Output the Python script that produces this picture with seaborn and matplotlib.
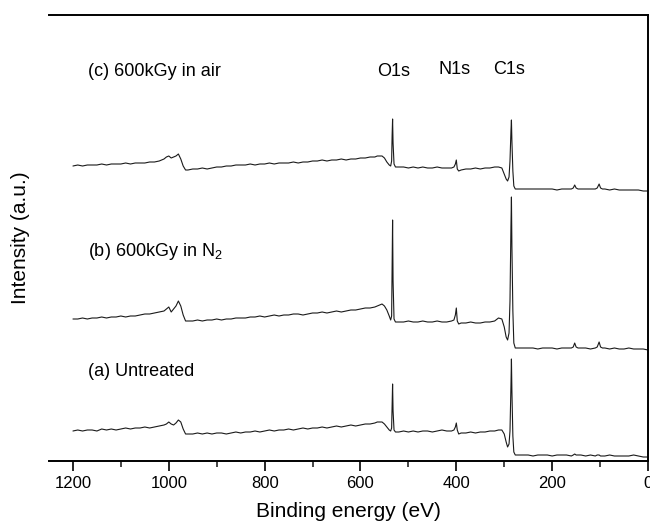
import matplotlib
matplotlib.use("Agg")
import matplotlib.pyplot as plt
import pandas as pd
import seaborn as sns
from matplotlib.ticker import MultipleLocator

# Binding energy grid (eV), finer around the core-level peaks
energy = [
    1200, 1190, 1180, 1170, 1160, 1150, 1140, 1130, 1120, 1110,
    1100, 1090, 1080, 1070, 1060, 1050, 1040, 1030, 1020, 1010,
    1005, 1000, 995, 990, 985, 980, 975, 970, 965, 960,
    950, 940, 930, 920, 910, 900, 890, 880, 870, 860,
    850, 840, 830, 820, 810, 800, 790, 780, 770, 760,
    750, 740, 730, 720, 710, 700, 690, 680, 670, 660,
    650, 640, 630, 620, 610, 600, 590, 580, 570,
    565, 560, 555, 550, 545, 540, 537, 535, 534, 533, 532, 530, 527, 520,
    510, 500, 490, 480, 470, 460, 450, 440, 430, 420, 410,
    405, 402, 400, 398, 395, 390,
    380, 370, 360, 350, 340, 330, 320,
    312, 305, 300, 296, 293, 290, 288, 286, 285, 284, 282, 280, 277, 274, 270,
    260, 250, 240, 230, 220, 210, 200, 190, 180, 170, 160,
    156, 153, 150, 146,
    140, 130, 120, 110, 106, 102, 99, 95,
    90, 80, 70, 60, 50, 40, 30, 20, 10, 0,
]

# Offset survey spectra (a.u.)
untreated = [
    30, 31, 30, 31, 31, 30, 32, 31, 32, 31,
    32, 33, 32, 33, 33, 34, 33, 34, 35, 36,
    37, 39, 37, 36, 38, 41, 39, 32, 27, 27,
    27, 28, 27, 28, 27, 28, 28, 27, 28, 29,
    28, 29, 29, 30, 29, 30, 31, 30, 31, 31,
    32, 31, 32, 33, 32, 33, 33, 34, 33, 34,
    35, 34, 35, 36, 35, 36, 37, 37, 38,
    39, 39, 39, 37, 34, 31, 30, 33, 55, 77, 50, 31, 29, 29,
    30, 29, 30, 29, 30, 30, 29, 30, 31, 30, 30,
    31, 34, 38, 31, 27, 28,
    28, 29, 28, 29, 29, 30, 30,
    31, 31, 27, 19, 14, 17, 30, 75, 102, 70, 25, 9, 6, 6, 6,
    6, 6, 5, 6, 6, 6, 5, 6, 6, 6, 5,
    6, 7, 6, 6,
    6, 5, 6, 5, 6, 6, 5, 5,
    5, 6, 5, 5, 5, 5, 6, 5, 4, 4,
]

irradiated_n2 = [
    142, 142, 143, 142, 143, 143, 144, 143, 144, 144,
    145, 144, 145, 145, 146, 147, 147, 148, 149, 150,
    152, 154, 149, 152, 155, 160, 155, 146, 140, 140,
    140, 141, 140, 141, 141, 142, 141, 142, 142, 143,
    143, 143, 144, 144, 145, 144, 145, 146, 145, 146,
    146, 147, 147, 146, 147, 148, 148, 149, 148, 149,
    150, 149, 150, 151, 151, 152, 153, 153, 154,
    155, 156, 157, 155, 151, 145, 141, 145, 190, 241, 180, 142, 139, 139,
    139, 140, 139, 139, 140, 139, 139, 140, 139, 139, 140,
    141, 146, 153, 140, 137, 138,
    138, 139, 138, 138, 139, 139, 140,
    143, 142, 134, 124, 121, 128, 160, 235, 264, 215, 150, 118, 113, 113, 113,
    113, 113, 113, 112, 113, 113, 113, 112, 113, 113, 113,
    114, 118, 114, 113,
    113, 113, 112, 113, 114, 119, 114, 113,
    113, 112, 113, 112, 112, 113, 112, 112, 112, 111,
]

irradiated_air = [
    295, 296, 295, 296, 296, 296, 297, 296, 297, 297,
    297, 298, 297, 298, 298, 298, 299, 299, 300, 302,
    304, 305, 303, 304, 305, 307, 302, 295, 291, 291,
    292, 292, 293, 292, 293, 294, 294, 295, 295, 296,
    296, 296, 297, 296, 297, 297, 298, 297, 298, 298,
    298, 299, 298, 299, 299, 300, 300, 301, 300, 301,
    301, 302, 301, 302, 302, 303, 303, 304, 304,
    305, 305, 305, 303, 299, 296, 295, 300, 325, 342, 318, 297, 294, 294,
    294, 293, 294, 293, 294, 293, 293, 294, 293, 293, 293,
    294, 297, 301, 292, 290, 291,
    292, 292, 293, 292, 293, 293, 294,
    294, 293, 287, 282, 280, 284, 300, 330, 341, 320, 290, 275, 272, 272, 272,
    272, 272, 272, 272, 272, 272, 272, 271, 272, 272, 272,
    273, 276, 273, 272,
    272, 272, 272, 272, 273, 277, 273, 272,
    272, 271, 272, 271, 271, 271, 271, 271, 270, 270,
]

sample_names = ["(a) Untreated", "(b) 600kGy in N$_2$", "(c) 600kGy in air"]
sample_values = [untreated, irradiated_n2, irradiated_air]
peak_names = ["O1s", "N1s", "C1s"]

frames = [
    pd.DataFrame({"energy": energy, "intensity": vals, "sample": name})
    for name, vals in zip(sample_names, sample_values)
]
df = pd.concat(frames, ignore_index=True)

sns.set_theme(style="ticks")
plt.rcParams["font.family"] = ["Liberation Sans", "DejaVu Sans"]
plt.rcParams["mathtext.fontset"] = "custom"
plt.rcParams["mathtext.rm"] = "Liberation Sans"
plt.rcParams["mathtext.it"] = "Liberation Sans:italic"

fig = plt.figure(figsize=(6.5, 5.26), dpi=100)
ax = fig.add_axes([49 / 650, 65 / 526, 599 / 650, 446 / 526])

sns.lineplot(
    data=df, x="energy", y="intensity", hue="sample",
    palette=["#1a1a1a"] * 3, estimator=None, legend=False,
    linewidth=0.8, ax=ax,
)

ax.set_xlim(1250, 0)
ax.set_ylim(0, 446)
ax.xaxis.set_major_locator(MultipleLocator(200))
ax.xaxis.set_minor_locator(MultipleLocator(100))
ax.tick_params(axis="x", which="major", direction="out", length=7,
               width=1.2, labelsize=12, colors="black", pad=4)
ax.tick_params(axis="x", which="minor", direction="out", length=4, width=1.2)
ax.set_yticks([])

ax.spines["left"].set_visible(False)
for side in ("top", "right", "bottom"):
    ax.spines[side].set_visible(True)
    ax.spines[side].set_color("black")
    ax.spines[side].set_linewidth(1.4)

ax.set_xlabel("Binding energy (eV)", fontsize=15, labelpad=8, color="black")
ax.set_ylabel("Intensity (a.u.)", fontsize=15, labelpad=14, color="black")

# Sample labels above each spectrum
label_pos = [(1169, 89), (1169, 209), (1169, 389)]
for name, (x, y) in zip(sample_names, label_pos):
    ax.text(x, y, name, fontsize=13, ha="left", va="center", color="black")

# Core-level peak labels
peak_pos = [(531, 389), (404, 391), (290, 391)]
for name, (x, y) in zip(peak_names, peak_pos):
    ax.text(x, y, name, fontsize=13, ha="center", va="center", color="black")

fig.savefig("out.png", dpi=100)
